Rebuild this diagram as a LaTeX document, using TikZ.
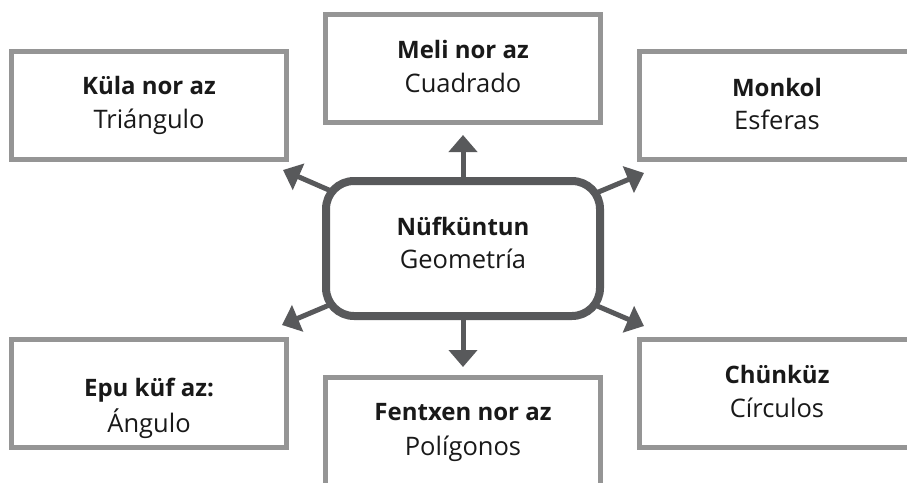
\documentclass[tikz,border=0pt]{standalone}
\usepackage{fontspec}
\setmainfont{Open Sans}
\usetikzlibrary{arrows.meta}
\definecolor{boxgray}{HTML}{959595}
\definecolor{dkgray}{HTML}{58595B}
\pgfdeclarelayer{bg}
\pgfsetlayers{bg,main}
\begin{document}
\begin{tikzpicture}[x=1pt,y=-1pt,
  leaf/.style={draw=boxgray, line width=5pt, fill=white, minimum width=275pt, minimum height=108pt, inner sep=0pt},
  hub/.style={draw=dkgray, line width=8pt, fill=white, rounded corners=28pt, minimum width=274pt, minimum height=135pt, inner sep=0pt},
  conn/.style={draw=dkgray, line width=5pt, -{Triangle[length=17pt,width=28pt]}},
  hd/.style={font=\fontsize{24}{28}\selectfont\bfseries, anchor=base, inner sep=0pt, text=black!90},
  sub/.style={font=\fontsize{25.5}{30}\selectfont, anchor=base, inner sep=0pt, text=black!90}]
\useasboundingbox (0,0) rectangle (907,482);
\clip (0,0) rectangle (907,482);
% boxes
\node[leaf] (kula) at (149,105.5) {};
\node[leaf] (meli) at (463,68.5) {};
\node[leaf] (monkol) at (777,105.5) {};
\node[leaf] (epu) at (149,393) {};
\node[leaf] (fentxen) at (463,431.5) {};
\node[leaf] (chunkuz) at (777,393) {};
\node[hub] (cbox) at (463,248.5) {};
% arrow tips
\coordinate (tUL) at (283,170);
\coordinate (tUR) at (644,173);
\coordinate (tLL) at (282,325);
\coordinate (tLR) at (644,326);
\begin{pgfonlayer}{bg}
\fill[white] (0,0) rectangle (907,482);
\draw[conn] (cbox.center) -- (tUL);
\draw[conn] (cbox.center) -- (tUR);
\draw[conn] (cbox.center) -- (tLL);
\draw[conn] (cbox.center) -- (tLR);
\draw[conn, shorten >=10pt] (cbox.center) -- (meli);
\draw[conn, shorten >=8pt] (cbox.center) -- (fentxen);
\end{pgfonlayer}
% texts
\node[hd] (kulaA) at (149,94.5) {Küla nor az};
\node[sub] (kulaB) at (149,128) {Triángulo};
\node[hd] (meliA) at (463,58) {Meli nor az};
\node[sub] (meliB) at (463,92) {Cuadrado};
\node[hd] (monkolA) at (777,96) {Monkol};
\node[sub] (monkolB) at (777,129.5) {Esferas};
\node[hd] (cA) at (463,235) {Nüfküntun};
\node[sub] (cB) at (463,268) {Geometría};
\node[hd] (epuA) at (149,396.5) {Epu küf az:};
\node[sub] (epuB) at (149,432.5) {Ángulo};
\node[hd] (fentxenA) at (463,420.5) {Fentxen nor az};
\node[sub] (fentxenB) at (463,455) {Polígonos};
\node[hd] (chunkuzA) at (777,383.5) {Chünküz};
\node[sub] (chunkuzB) at (777,417) {Círculos};
\end{tikzpicture}
\end{document}
